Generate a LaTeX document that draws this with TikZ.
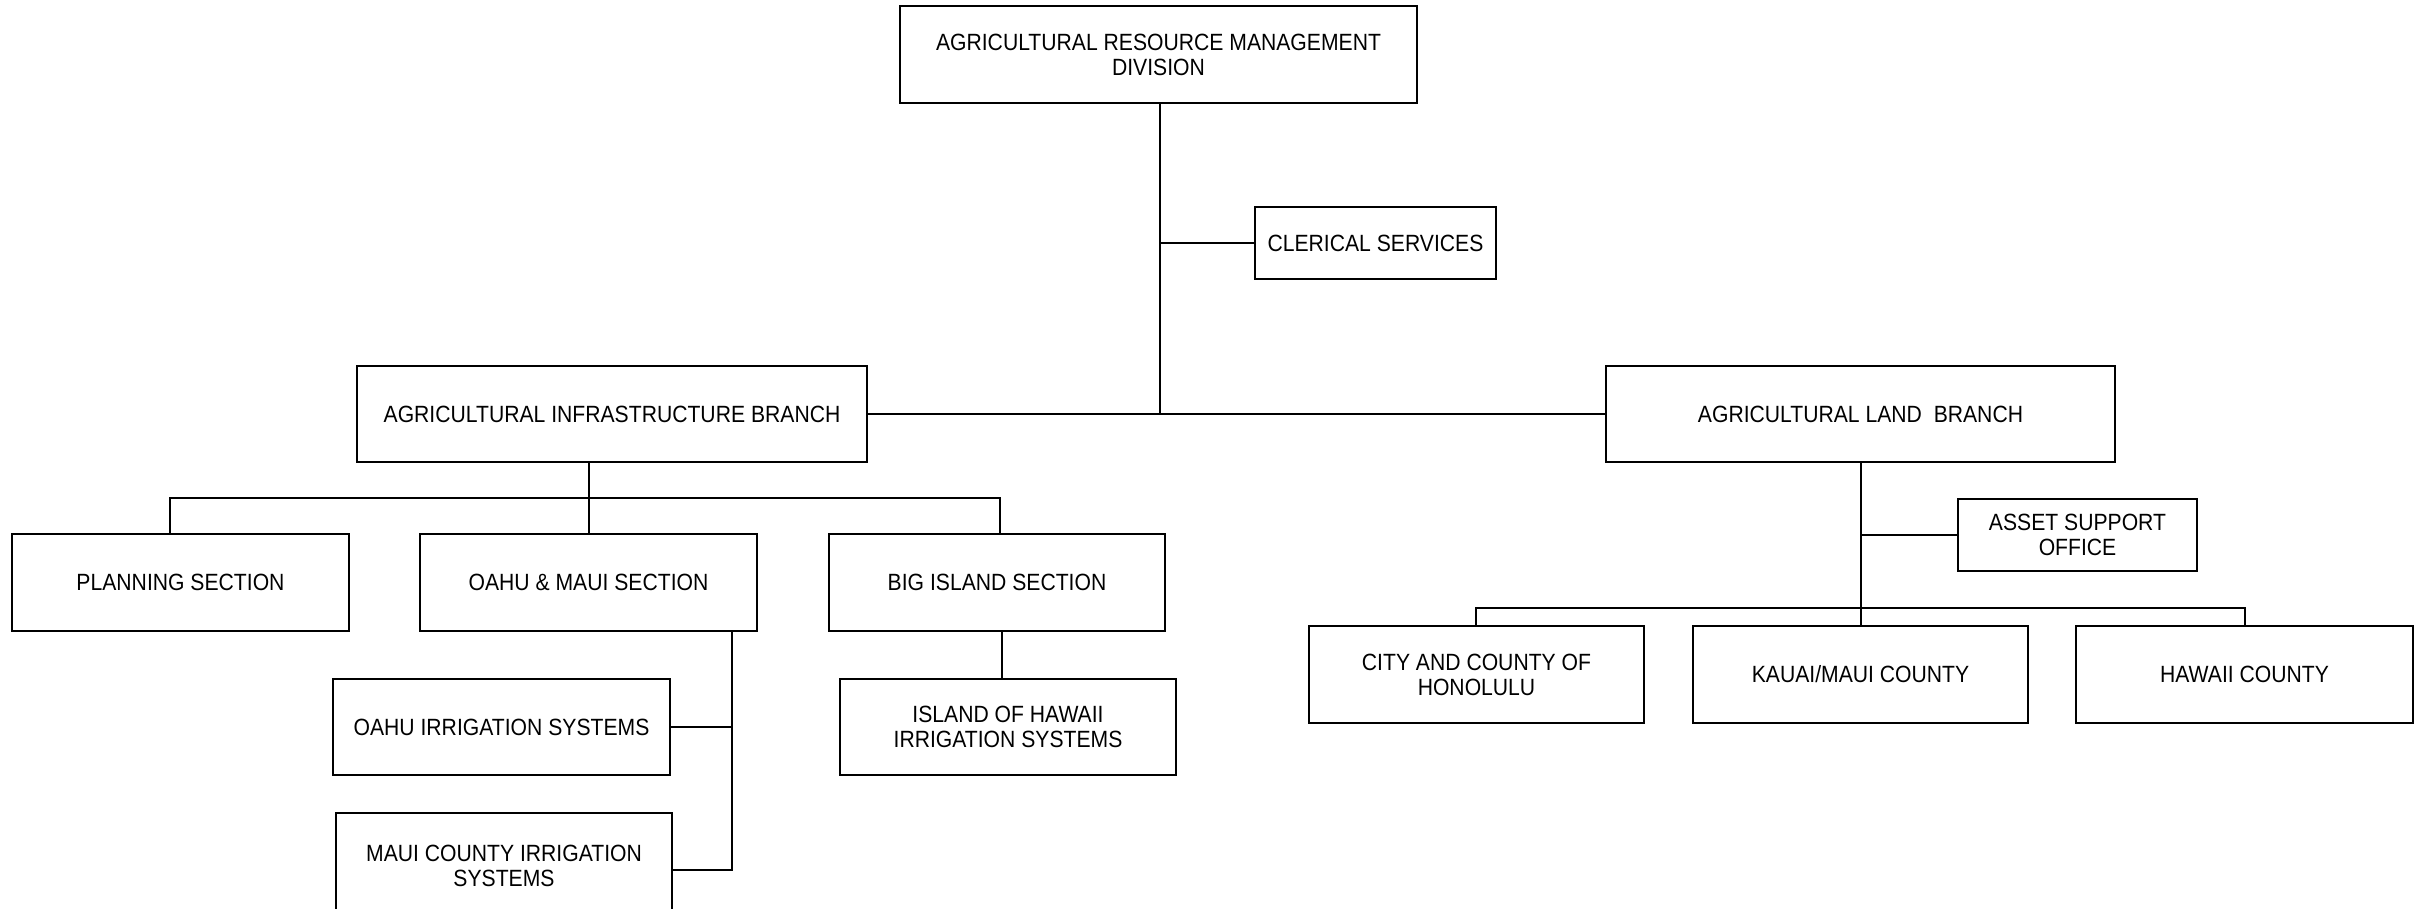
\documentclass[tikz,border=0pt]{standalone}
\usepackage{fontspec}
\setmainfont{Liberation Sans}[FakeStretch=0.9]
\begin{document}
\begin{tikzpicture}[x=1pt,y=-1pt,
  box/.style={draw, line width=1.8pt, rectangle, align=center, inner sep=0pt,
    font=\fontsize{23.5}{25}\selectfont},
  conn/.style={line width=1.8pt}]
\useasboundingbox (0,0) rectangle (2425,908);
% nodes
\node[box, minimum width=517pt, minimum height=97pt] (top) at (1158.5,54.5) {AGRICULTURAL RESOURCE MANAGEMENT\\DIVISION};
\node[box, minimum width=241pt, minimum height=72pt] (clerical) at (1375.5,243) {CLERICAL SERVICES};
\node[box, minimum width=510pt, minimum height=96pt] (infra) at (612,414) {AGRICULTURAL INFRASTRUCTURE BRANCH};
\node[box, minimum width=509pt, minimum height=96pt] (land) at (1860.5,414) {AGRICULTURAL LAND~ BRANCH};
\node[box, minimum width=337pt, minimum height=97pt] (planning) at (180.5,582.5) {PLANNING SECTION};
\node[box, minimum width=337pt, minimum height=97pt] (oahumaui) at (588.5,582.5) {OAHU \& MAUI SECTION};
\node[box, minimum width=336pt, minimum height=97pt] (bigisland) at (997,582.5) {BIG ISLAND SECTION};
\node[box, minimum width=337pt, minimum height=96pt] (oahuirr) at (501.5,727) {OAHU IRRIGATION SYSTEMS};
\node[box, minimum width=336pt, minimum height=106pt] (mauiirr) at (504,866) {MAUI COUNTY IRRIGATION\\SYSTEMS};
\node[box, minimum width=336pt, minimum height=96pt] (hawaiiirr) at (1008,727) {ISLAND OF HAWAII\\IRRIGATION SYSTEMS};
\node[box, minimum width=239pt, minimum height=72pt] (asset) at (2077.5,535) {ASSET SUPPORT\\OFFICE};
\node[box, minimum width=335pt, minimum height=97pt] (city) at (1476.5,674.5) {CITY AND COUNTY OF\\HONOLULU};
\node[box, minimum width=335pt, minimum height=97pt] (kauai) at (1860.5,674.5) {KAUAI/MAUI COUNTY};
\node[box, minimum width=337pt, minimum height=97pt] (hawaii) at (2244.5,674.5) {HAWAII COUNTY};
% helper coordinates
\coordinate (mainjoin) at (1160,414);
\coordinate (infrabus) at (589,498);
\coordinate (landbus) at (1861,608);
\coordinate (omline) at (732,870);
% top level
\draw[conn] (top.south -| mainjoin) -- (mainjoin);
\draw[conn] (clerical.west -| mainjoin) -- (clerical.west);
\draw[conn] (infra.east) -- (land.west);
% infrastructure branch
\draw[conn] (infra.south -| infrabus) -- (infrabus);
\draw[conn] (planning.north -| 170,0) -- (infrabus -| 170,0) -- (infrabus -| 1000,0) -- (bigisland.north -| 1000,0);
\draw[conn] (infrabus) -- (oahumaui.north -| infrabus);
\draw[conn] (oahumaui.south -| omline) -- (omline) -- (mauiirr.east |- omline);
\draw[conn] (oahuirr.east) -- (oahuirr.east -| omline);
\draw[conn] (bigisland.south -| 1002,0) -- (hawaiiirr.north -| 1002,0);
% land branch
\draw[conn] (land.south -| landbus) -- (kauai.north -| landbus);
\draw[conn] (asset.west -| landbus) -- (asset.west);
\draw[conn] (city.north -| 1476,0) -- (landbus -| 1476,0) -- (landbus -| 2245,0) -- (hawaii.north -| 2245,0);
\end{tikzpicture}
\end{document}
